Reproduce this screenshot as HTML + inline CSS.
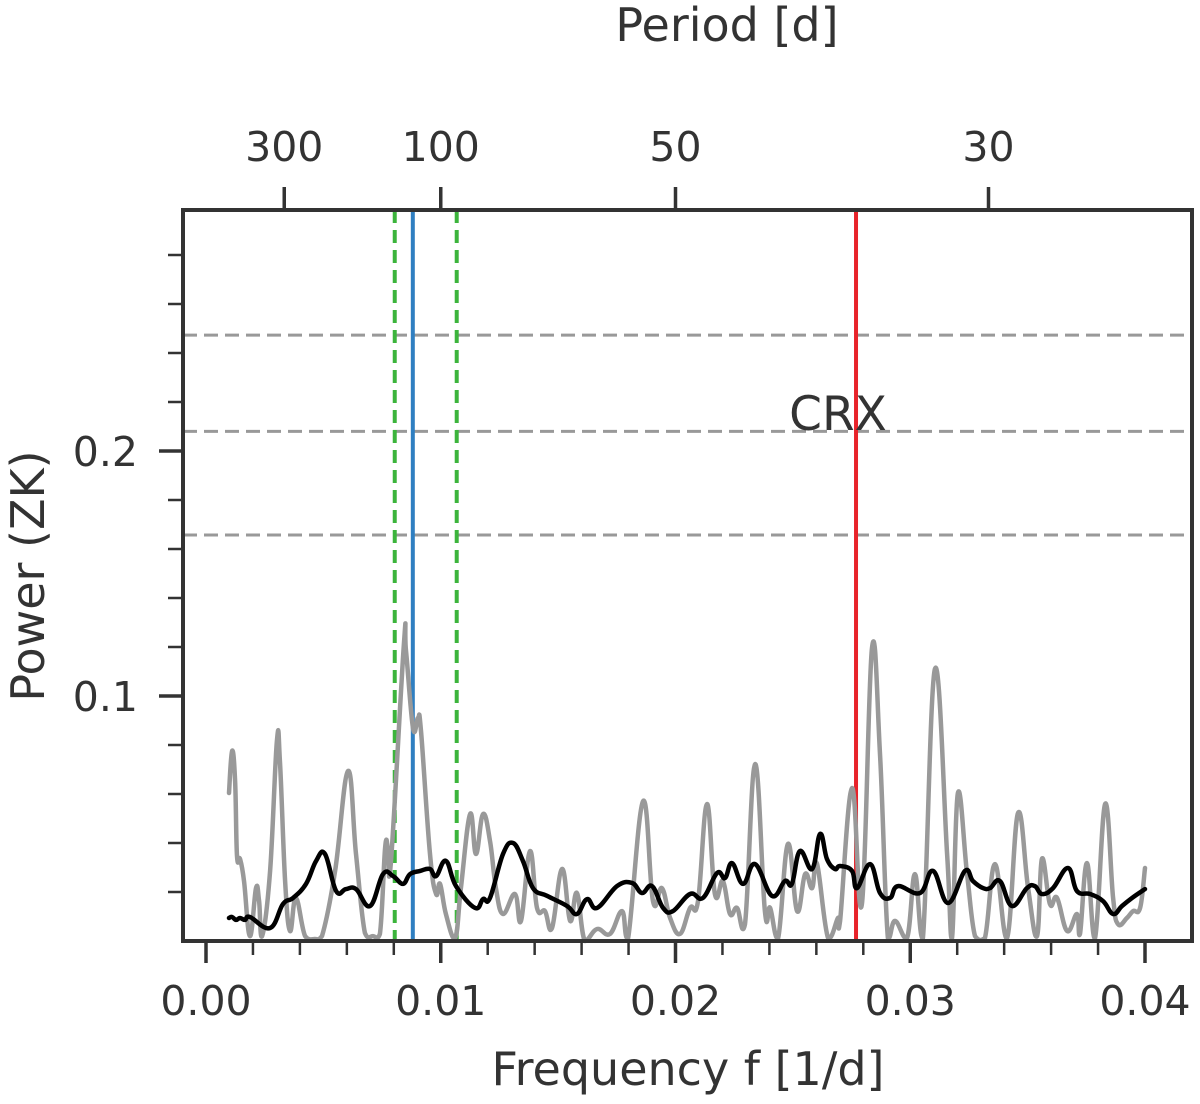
<!DOCTYPE html>
<html><head><meta charset="utf-8"><style>
html,body{margin:0;padding:0;background:#fff;}
svg text{font-family:"DejaVu Sans","Liberation Sans",sans-serif;fill:#333;}
</style></head><body>
<svg id="chart" width="1200" height="1099" viewBox="0 0 1200 1099" xmlns="http://www.w3.org/2000/svg">
<g id="marks"></g>
<g id="axes"></g>
</svg>
<script>
// gray periodogram (freq in 1e-3 1/d, power in 1e-3)
const grayFreq=[0.98,1.11,1.24,1.32,1.45,1.62,1.87,2.13,2.26,2.39,2.73,3.02,3.15,3.37,3.58,3.83,4.22,4.64,4.94,5.50,6.05,6.39,6.77,7.11,7.41,7.63,7.75,7.88,8.43,8.52,8.82,9.03,9.16,9.54,9.80,9.97,10.22,10.61,10.86,11.25,11.50,11.80,12.10,12.35,12.65,13.16,13.42,13.80,14.10,14.44,14.74,15.17,15.51,15.80,16.14,16.66,17.21,17.72,17.98,18.62,19.04,19.42,19.77,20.19,20.62,20.96,21.34,21.68,22.02,22.32,22.62,22.96,23.39,23.81,24.03,24.37,24.79,25.18,25.52,25.82,26.03,26.50,26.92,27.01,27.52,27.94,28.37,28.71,29.05,29.35,29.86,30.20,30.54,31.05,31.57,31.78,32.03,32.42,32.76,33.18,33.61,34.12,34.59,35.02,35.40,35.61,35.95,36.25,36.68,37.10,37.23,37.53,37.87,38.30,38.64,38.85,39.23,39.49,39.79,40.0];
const grayPower=[60.4,77.6,65.3,34.7,33.5,24.5,2.0,21.6,16.3,2.0,28.6,81.6,73.5,24.5,4.1,17.6,2.0,0.8,2.0,28.6,69.4,35.5,3.3,2.0,2.9,38.0,38.0,32.7,121.2,118.4,86.9,91.0,85.7,35.5,19.2,23.3,11.0,1.2,21.6,51.8,35.5,51.8,40.8,21.6,11.0,19.2,8.2,36.7,13.5,12.2,5.3,29.4,8.2,19.6,0,4.9,2.9,12.2,1.2,57.1,16.3,21.6,9.4,2.9,13.5,16.3,55.9,19.2,24.5,11.0,13.5,6.9,72.2,12.2,13.5,1.2,39.6,12.2,27.3,21.6,31.4,1.2,9.4,8.2,62.4,15.1,119.6,76.3,1.2,8.2,1.2,27.3,1.2,111.0,35.5,1.2,60.4,27.3,2.0,1.2,31.4,1.2,52.2,21.6,2.0,33.5,15.1,17.6,4.1,11.0,2.9,31.8,1.2,55.9,17.6,6.9,9.4,12.2,13.5,29.8];
// black smoothed curve
const blackFreq=[0.98,1.11,1.28,1.45,1.66,1.87,2.73,3.28,3.71,4.26,4.69,5.07,5.54,5.96,6.39,6.99,7.54,7.97,8.39,8.69,9.12,9.54,9.80,10.22,10.65,11.46,11.80,12.10,12.65,13.08,13.50,13.93,14.53,15.38,15.80,16.23,16.66,17.51,18.15,18.57,19.00,19.47,19.89,20.62,21.17,21.77,22.11,22.41,22.88,23.39,24.11,24.66,24.96,25.30,25.82,26.16,26.45,26.79,27.01,27.52,27.73,28.29,28.71,29.14,29.48,30.42,30.97,31.61,32.33,32.67,33.10,33.40,33.82,34.33,34.97,35.31,35.61,36.08,36.72,37.10,37.66,38.21,38.64,39.02,39.45,40.0];
const blackPower=[9.4,9.8,8.6,9.4,8.6,9.8,5.3,15.1,17.6,23.3,32.7,35.5,20.4,21.2,21.2,14.3,27.3,26.5,23.3,27.3,28.6,29.4,26.5,32.7,22.4,13.5,17.1,17.6,35.5,40.0,32.7,21.6,18.4,14.3,11.0,17.1,13.5,22.4,23.7,19.6,22.4,13.5,12.2,19.2,17.6,27.8,25.7,31.8,23.3,31.4,18.4,24.5,23.3,36.7,29.4,43.7,33.5,29.4,30.6,28.6,21.6,31.4,19.6,17.6,22.4,19.6,28.6,15.5,28.6,24.5,21.6,21.6,24.5,14.3,21.6,22.4,19.2,21.6,29.8,20.4,19.2,16.3,11.0,14.3,17.6,21.2];
const fapLevels=[0.1657,0.208,0.2473];
const greenLines=[0.00804,0.01068];
const blueLine=[0.00881];
const redLine=[0.02769];
const xTickVals=[0,0.01,0.02,0.03,0.04];
const xTickLabels=["0.00","0.01","0.02","0.03","0.04"];
const yTickVals=[0.1,0.2];
const yTickLabels=["0.1","0.2"];
const periodTicks=[300,100,50,30];

const L=183,R=1192,T=210,B=941;
const X0=206,XS=23475;
const yMax=(B-T)/2450;
function xs(f){return X0+f*XS;}
function ys(p){return B-p*2450;}
const NS="http://www.w3.org/2000/svg";
function mk(tag,attrs,parent){const e=document.createElementNS(NS,tag);for(const k in attrs)e.setAttribute(k,attrs[k]);parent.appendChild(e);return e;}
const marks=document.getElementById('marks'),axes=document.getElementById('axes');

fapLevels.forEach((v,i)=>{const l=mk('line',{x1:L,x2:R,y1:ys(v),y2:ys(v),stroke:'#999','stroke-width':3,'stroke-dasharray':'14,7'},marks);

});
greenLines.forEach(v=>{const l=mk('line',{x1:xs(v),x2:xs(v),y1:T,y2:B,stroke:'#3cb43c','stroke-width':4,'stroke-dasharray':'13,7'},marks);

});
blueLine.forEach(v=>{const l=mk('line',{x1:xs(v),x2:xs(v),y1:T,y2:B,stroke:'#2f7fc1','stroke-width':4},marks);

});
redLine.forEach(v=>{const l=mk('line',{x1:xs(v),x2:xs(v),y1:T,y2:B,stroke:'#e8232a','stroke-width':4},marks);

});

function path(fr,pw,color,w,name){
const P=fr.map((f,i)=>[xs(f/1000),ys(pw[i]/1000)]);
let d='M'+P[0][0].toFixed(1)+','+P[0][1].toFixed(1);
for(let i=0;i<P.length-1;i++){const p0=P[Math.max(0,i-1)],p1=P[i],p2=P[i+1],p3=P[Math.min(P.length-1,i+2)];
const k=0.2;
let c1y=p1[1]+(p2[1]-p0[1])*k, c2y=p2[1]-(p3[1]-p1[1])*k;
c1y=Math.min(B,c1y);c2y=Math.min(B,c2y);
d+='C'+(p1[0]+(p2[0]-p0[0])*k).toFixed(1)+','+c1y.toFixed(1)+' '+(p2[0]-(p3[0]-p1[0])*k).toFixed(1)+','+c2y.toFixed(1)+' '+p2[0].toFixed(1)+','+p2[1].toFixed(1);}
const p=mk('path',{d:d,fill:'none',stroke:color,'stroke-width':w,'stroke-linejoin':'round','stroke-linecap':'round'},marks);

}
path(grayFreq,grayPower,'#999',4.5,'raw-periodogram-line');
path(blackFreq,blackPower,'#000',4.5,'window-function-line');

const crx=mk('text',{x:838,y:430,'font-size':47,'text-anchor':'middle'},marks);crx.textContent='CRX';



const frame=mk('rect',{x:L,y:T,width:R-L,height:B-T,fill:'none',stroke:'#333','stroke-width':4},axes);



for(let i=0;i<=20;i++){const f=i*0.002;const major=(i%5===0);
const t=mk('line',{x1:xs(f),x2:xs(f),y1:B,y2:B+(major?22:14),stroke:'#333','stroke-width':major?3.5:2.5},axes);

}
xTickVals.forEach((v,i)=>{const t=mk('text',{x:xs(v),y:1015,'font-size':41,'text-anchor':'middle'},axes);t.textContent=xTickLabels[i];

});
for(let i=1;i<=14;i++){const p=i*0.02;if(p>yMax)break;const major=(i%5===0);
const t=mk('line',{x1:L-(major?24:15),x2:L,y1:ys(p),y2:ys(p),stroke:'#333','stroke-width':major?3.5:2.5},axes);

}
yTickVals.forEach((v,i)=>{const t=mk('text',{x:138,y:ys(v)+15,'font-size':41,'text-anchor':'end'},axes);t.textContent=yTickLabels[i];

});
periodTicks.forEach(P=>{const x=xs(1/P);
const t=mk('line',{x1:x,x2:x,y1:T,y2:T-23,stroke:'#333','stroke-width':3.5},axes);


const lb=mk('text',{x:x,y:161,'font-size':41,'text-anchor':'middle'},axes);lb.textContent=String(P);

});

const xl=mk('text',{x:688,y:1085,'font-size':46,'text-anchor':'middle'},axes);xl.textContent='Frequency f [1/d]';


const tl=mk('text',{x:727,y:41,'font-size':46,'text-anchor':'middle'},axes);tl.textContent='Period [d]';


const yl=mk('text',{x:0,y:0,'font-size':46,'text-anchor':'middle',transform:'translate(44,576) rotate(-90)'},axes);yl.textContent='Power (ZK)';


</script>
</body></html>
